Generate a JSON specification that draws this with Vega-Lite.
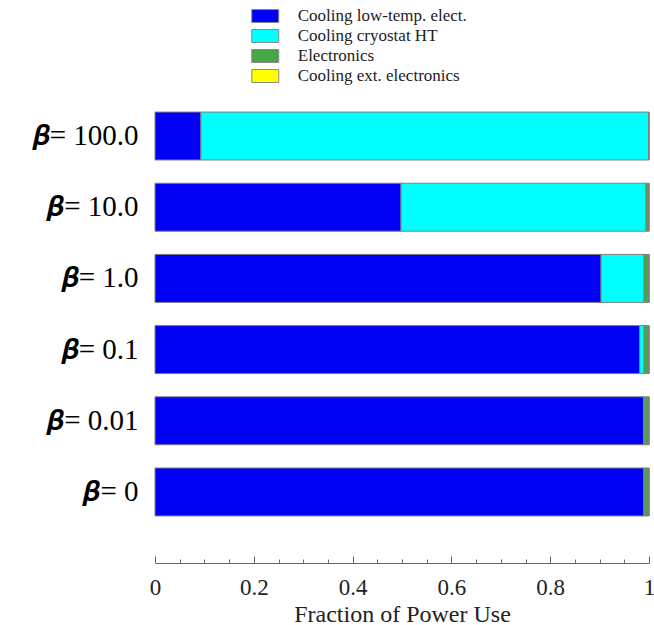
{
  "$schema": "https://vega.github.io/schema/vega-lite/v6.json",
  "autosize": {"type": "none"},
  "width": 494,
  "height": 428,
  "padding": {"left": 155, "top": 100, "right": 5, "bottom": 97},
  "background": "white",
  "config": {"view": {"stroke": null}, "font": "Liberation Serif"},
  "data": {
    "values": [
      {"beta": "100.0", "part": "Cooling low-temp. elect.", "k": 1, "frac": 0.093},
      {"beta": "100.0", "part": "Cooling cryostat HT", "k": 2, "frac": 0.906},
      {"beta": "100.0", "part": "Electronics", "k": 3, "frac": 0.001},
      {"beta": "100.0", "part": "Cooling ext. electronics", "k": 4, "frac": 0.0},
      {"beta": "10.0", "part": "Cooling low-temp. elect.", "k": 1, "frac": 0.498},
      {"beta": "10.0", "part": "Cooling cryostat HT", "k": 2, "frac": 0.496},
      {"beta": "10.0", "part": "Electronics", "k": 3, "frac": 0.006},
      {"beta": "10.0", "part": "Cooling ext. electronics", "k": 4, "frac": 0.0},
      {"beta": "1.0", "part": "Cooling low-temp. elect.", "k": 1, "frac": 0.903},
      {"beta": "1.0", "part": "Cooling cryostat HT", "k": 2, "frac": 0.087},
      {"beta": "1.0", "part": "Electronics", "k": 3, "frac": 0.01},
      {"beta": "1.0", "part": "Cooling ext. electronics", "k": 4, "frac": 0.0},
      {"beta": "0.1", "part": "Cooling low-temp. elect.", "k": 1, "frac": 0.981},
      {"beta": "0.1", "part": "Cooling cryostat HT", "k": 2, "frac": 0.009},
      {"beta": "0.1", "part": "Electronics", "k": 3, "frac": 0.01},
      {"beta": "0.1", "part": "Cooling ext. electronics", "k": 4, "frac": 0.0},
      {"beta": "0.01", "part": "Cooling low-temp. elect.", "k": 1, "frac": 0.9895},
      {"beta": "0.01", "part": "Cooling cryostat HT", "k": 2, "frac": 0.0005},
      {"beta": "0.01", "part": "Electronics", "k": 3, "frac": 0.01},
      {"beta": "0.01", "part": "Cooling ext. electronics", "k": 4, "frac": 0.0},
      {"beta": "0", "part": "Cooling low-temp. elect.", "k": 1, "frac": 0.99},
      {"beta": "0", "part": "Cooling cryostat HT", "k": 2, "frac": 0.0},
      {"beta": "0", "part": "Electronics", "k": 3, "frac": 0.01},
      {"beta": "0", "part": "Cooling ext. electronics", "k": 4, "frac": 0.0}
    ]
  },
  "encoding": {
    "y": {
      "field": "beta",
      "type": "nominal",
      "sort": ["100.0", "10.0", "1.0", "0.1", "0.01", "0"],
      "scale": {"paddingInner": 0.326, "paddingOuter": 0.169},
      "axis": {
        "title": null,
        "ticks": false,
        "domain": false,
        "labelExpr": "'𝜷= ' + datum.value",
        "labelFont": "Liberation Serif, DejaVu Serif",
        "labelFontSize": 29,
        "labelColor": "#000000",
        "labelPadding": 17,
        "labelAlign": "right"
      }
    },
    "color": {
      "field": "part",
      "type": "nominal",
      "sort": ["Cooling low-temp. elect.", "Cooling cryostat HT", "Electronics", "Cooling ext. electronics"],
      "scale": {
        "domain": ["Cooling low-temp. elect.", "Cooling cryostat HT", "Electronics", "Cooling ext. electronics"],
        "range": ["#0000F5", "#00FFFF", "#45A845", "#FFFF00"]
      },
      "legend": {
        "title": null,
        "orient": "none",
        "legendX": 101.75,
        "legendY": -92.5,
        "padding": 0,
        "symbolType": "M-2,-0.96H2V0.96H-2Z",
        "symbolSize": 182,
        "symbolStrokeColor": "#888888",
        "symbolStrokeWidth": 1,
        "symbolOpacity": 1,
        "labelFont": "Liberation Serif",
        "labelFontSize": 17,
        "labelColor": "#222222",
        "labelOffset": 24,
        "rowPadding": 2,
        "labelLimit": 400
      }
    },
    "order": {"field": "k", "type": "quantitative"}
  },
  "layer": [
    {
      "mark": {"type": "bar", "stroke": "#808080", "strokeWidth": 1},
      "encoding": {
        "x": {
          "field": "frac",
          "type": "quantitative",
          "stack": "zero",
          "scale": {"domain": [0, 1], "nice": false},
          "axis": {
            "orient": "bottom",
            "title": "Fraction of Power Use",
            "titleFont": "Liberation Serif",
            "titleFontSize": 24,
            "titleFontWeight": "normal",
            "titleColor": "#222222",
            "titlePadding": 3,
            "values": [0, 0.2, 0.4, 0.6, 0.8, 1],
            "labelExpr": "datum.value + ''",
            "labelFont": "Liberation Serif",
            "labelFontSize": 23,
            "labelColor": "#222222",
            "labelFlush": false,
            "labelPadding": 20,
            "offset": 35,
            "grid": false,
            "domainColor": "#666666",
            "tickColor": "#666666",
            "tickSize": -7
          }
        }
      }
    },
    {
      "mark": {"type": "bar", "opacity": 0, "strokeOpacity": 0},
      "encoding": {
        "x": {
          "field": "frac",
          "type": "quantitative",
          "stack": "zero",
          "axis": {
            "orient": "bottom",
            "title": null,
            "labels": false,
            "domain": false,
            "values": [0.05, 0.1, 0.15, 0.25, 0.3, 0.35, 0.45, 0.5, 0.55, 0.65, 0.7, 0.75, 0.85, 0.9, 0.95],
            "offset": 35,
            "grid": false,
            "tickColor": "#666666",
            "tickSize": -4
          }
        }
      }
    }
  ],
  "resolve": {"axis": {"x": "independent"}}
}
